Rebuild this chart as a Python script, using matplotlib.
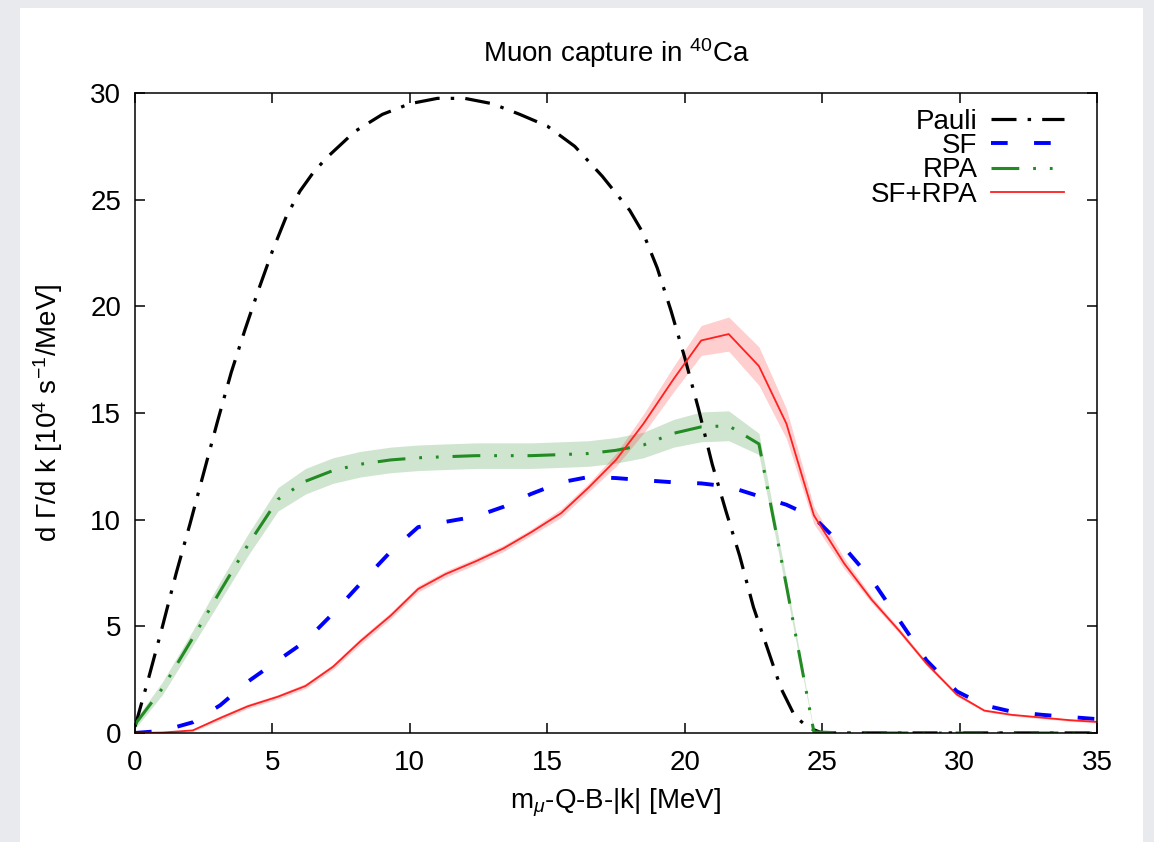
import matplotlib

matplotlib.use("Agg")
import matplotlib.pyplot as plt
from matplotlib.patches import Rectangle
import numpy as np

plt.rcParams["font.family"] = ["Liberation Sans", "DejaVu Sans"]
plt.rcParams["mathtext.fontset"] = "custom"
plt.rcParams["mathtext.rm"] = "Liberation Sans"
plt.rcParams["mathtext.it"] = "Liberation Sans:italic"
plt.rcParams["lines.scale_dashes"] = False

# Pauli-blocked free-gas spectrum
pauli_k = [0.0, 0.5, 1.0, 1.5, 2.0, 2.5, 3.0, 3.5, 4.0, 4.5, 5.0, 5.5, 6.0, 6.5,
           7.0, 7.5, 8.0, 9.0, 10.0, 11.0, 12.0, 13.0, 14.0, 15.0, 16.0, 17.0,
           18.0, 18.5, 19.0, 19.5, 20.0, 20.5, 21.0, 21.5, 22.0, 22.5, 23.0,
           23.5, 24.0, 24.5, 25.0, 35.0]
pauli = [0.3, 2.6, 5.0, 7.5, 9.8, 12.2, 14.6, 16.9, 18.9, 20.8, 22.6, 24.2, 25.4,
         26.3, 27.0, 27.6, 28.2, 29.0, 29.5, 29.75, 29.75, 29.5, 29.0, 28.45,
         27.5, 26.1, 24.5, 23.4, 21.8, 19.8, 17.6, 15.2, 12.6, 10.4, 8.3, 5.9,
         4.0, 2.1, 0.8, 0.25, 0.0, 0.0]

# common energy grid of the SF / RPA calculations
k = [0.0, 1.0, 2.1, 3.1, 4.1, 5.2, 6.2, 7.2, 8.2, 9.3, 10.3, 11.3, 12.4, 13.4,
     14.4, 15.5, 16.5, 17.5, 18.5, 19.6, 20.6, 21.6, 22.7, 23.7, 24.7, 25.8,
     26.8, 27.8, 28.8, 29.9, 30.9, 31.9, 33.0, 34.0, 35.0]

sf = [0.0, 0.1, 0.5, 1.3, 2.4, 3.4, 4.3, 5.6, 7.0, 8.5, 9.65, 9.9, 10.15, 10.6,
      11.2, 11.75, 12.0, 11.95, 11.85, 11.75, 11.7, 11.55, 11.1, 10.7, 10.1,
      8.7, 7.2, 5.3, 3.4, 1.95, 1.3, 1.0, 0.85, 0.75, 0.65]

rpa = [0.4, 2.1, 4.45, 6.65, 8.8, 10.95, 11.8, 12.3, 12.6, 12.8, 12.9, 12.95,
       13.0, 13.0, 13.0, 13.05, 13.1, 13.25, 13.5, 14.05, 14.35, 14.4, 13.55,
       6.9, 0.05, 0.0, 0.0, 0.0, 0.0, 0.0, 0.0, 0.0, 0.0, 0.0, 0.0]
rpa_err = [0.2, 0.3, 0.35, 0.45, 0.5, 0.55, 0.6, 0.6, 0.6, 0.6, 0.6, 0.6, 0.6,
           0.6, 0.6, 0.6, 0.6, 0.6, 0.6, 0.65, 0.7, 0.7, 0.5, 0.3, 0.05, 0.0,
           0.0, 0.0, 0.0, 0.0, 0.0, 0.0, 0.0, 0.0, 0.0]

sf_rpa = [0.0, 0.02, 0.12, 0.7, 1.25, 1.7, 2.2, 3.1, 4.3, 5.5, 6.75, 7.45, 8.05,
          8.65, 9.4, 10.3, 11.5, 12.8, 14.5, 16.6, 18.4, 18.7, 17.2, 14.5, 10.2,
          7.95, 6.25, 4.8, 3.25, 1.8, 1.05, 0.85, 0.72, 0.6, 0.52]
sf_rpa_err = [0.0, 0.02, 0.05, 0.1, 0.1, 0.1, 0.12, 0.12, 0.15, 0.15, 0.15, 0.15,
              0.15, 0.15, 0.15, 0.2, 0.2, 0.3, 0.45, 0.6, 0.7, 0.8, 0.9, 0.7,
              0.4, 0.25, 0.15, 0.12, 0.1, 0.08, 0.05, 0.05, 0.05, 0.05, 0.05]

FS = 20

fig = plt.figure(figsize=(11.54, 8.42), dpi=100, facecolor="#e9eaee")
# white page behind the plot
fig.patches.append(Rectangle((20 / 1154, 0), 1123 / 1154, 834 / 842,
                             transform=fig.transFigure, facecolor="white",
                             edgecolor="none", zorder=-5))
ax = fig.add_axes([0.117, 0.1295, 0.8336, 0.76])
ax.set_zorder(2)
ax.set_facecolor("white")

k_arr = np.array(k)
ax.fill_between(k_arr, np.array(rpa) - rpa_err, np.array(rpa) + rpa_err,
                color="#2a8a2a", alpha=0.22, linewidth=0)
ax.fill_between(k_arr, np.array(sf_rpa) - sf_rpa_err, np.array(sf_rpa) + sf_rpa_err,
                color="#ff2020", alpha=0.22, linewidth=0)

ax.plot(pauli_k, pauli, color="black", lw=2.3,
        linestyle=(0, (18, 8, 2.5, 8)), label="Pauli")
ax.plot(k, sf, color="#0000ff", lw=2.8,
        linestyle=(0, (12, 19)), label="SF")
ax.plot(k, rpa, color="#238b23", lw=2.2,
        linestyle=(0, (20, 10, 2, 10, 2, 10)), label="RPA")
ax.plot(k, sf_rpa, color="#ff2020", lw=1.3, label="SF+RPA")

ax.set_xlim(0, 35)
ax.set_ylim(0, 30)
ax.set_xticks(range(0, 36, 5))
ax.set_yticks(range(0, 31, 5))
ax.tick_params(direction="in", length=7, width=1.1, labelsize=FS,
               top=True, right=True)
ax.tick_params(axis="x", pad=12)
ax.tick_params(axis="y", pad=10)
for s in ax.spines.values():
    s.set_linewidth(1.1)

ax.set_title(r"Muon capture in $^{40}$Ca", fontsize=FS, pad=22)
ax.set_xlabel(r"m$_\mu$-Q-B-|k| [MeV]", fontsize=FS, labelpad=8)
ax.set_ylabel(r"d $\Gamma$/d k [10$^4$ s$^{-1}$/MeV]", fontsize=FS, labelpad=18)

ax.legend(loc="upper right", bbox_to_anchor=(0.9855, 1.006), frameon=False,
          markerfirst=False, fontsize=FS, handlelength=2.6,
          labelspacing=-0.06, borderaxespad=0.3, handletextpad=0.5)

fig.savefig("out.png", dpi=100, facecolor=fig.get_facecolor())
